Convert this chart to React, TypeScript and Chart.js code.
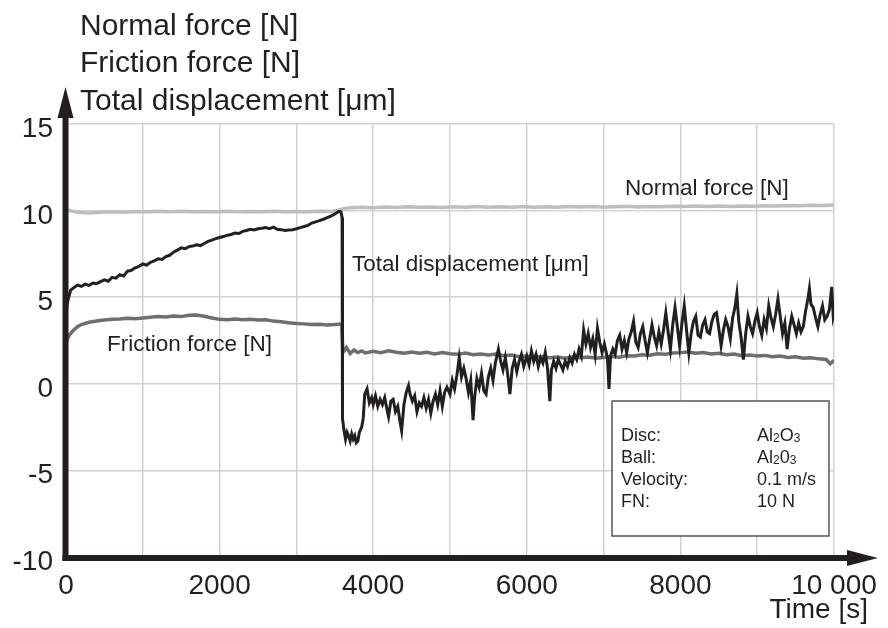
import React, { useEffect, useRef } from 'react';
import { Chart, registerables } from 'chart.js';

Chart.register(...registerables);

// ---------- data ----------
const normalTime = [0, 50, 150, 300, 450, 600, 750, 900, 1050, 1200, 1350, 1500, 1650, 1800, 1950, 2100, 2250, 2400, 2550, 2700, 2850, 3000, 3150, 3300, 3450, 3550, 3620, 3700, 3850, 4000, 4150, 4300, 4450, 4600, 4750, 4900, 5050, 5200, 5350, 5500, 5650, 5800, 5950, 6100, 6250, 6400, 6550, 6700, 6850, 7000, 7150, 7300, 7450, 7600, 7750, 7900, 8050, 8200, 8350, 8500, 8650, 8800, 8950, 9100, 9250, 9400, 9550, 9700, 9850, 10000];
const normalForce = [10.05, 10.0, 9.9, 9.86, 9.9, 9.93, 9.91, 9.95, 9.93, 9.96, 9.94, 9.96, 9.93, 9.95, 9.94, 9.96, 9.93, 9.95, 9.94, 9.96, 9.93, 9.95, 9.93, 9.96, 9.95, 10.02, 10.12, 10.16, 10.2, 10.17, 10.21, 10.18, 10.22, 10.19, 10.21, 10.18, 10.22, 10.2, 10.23, 10.19, 10.22, 10.2, 10.23, 10.2, 10.22, 10.19, 10.23, 10.21, 10.24, 10.2, 10.22, 10.25, 10.21, 10.24, 10.22, 10.25, 10.23, 10.26, 10.23, 10.26, 10.24, 10.27, 10.25, 10.28, 10.26, 10.3, 10.28, 10.31, 10.3, 10.32];

const frictionTime = [0, 20, 50, 100, 150, 200, 300, 400, 500, 600, 700, 800, 900, 1000, 1100, 1200, 1300, 1400, 1500, 1600, 1700, 1800, 1900, 2000, 2100, 2200, 2300, 2400, 2500, 2600, 2700, 2800, 2900, 3000, 3100, 3200, 3300, 3400, 3500, 3590, 3605, 3650, 3700, 3750, 3800, 3850, 3900, 4000, 4100, 4200, 4300, 4400, 4500, 4600, 4700, 4800, 4900, 5000, 5100, 5200, 5300, 5400, 5500, 5600, 5700, 5800, 5900, 6000, 6100, 6200, 6300, 6400, 6500, 6600, 6700, 6800, 6900, 7000, 7100, 7200, 7300, 7400, 7500, 7600, 7700, 7800, 7900, 8000, 8100, 8200, 8300, 8400, 8500, 8600, 8700, 8800, 8900, 9000, 9100, 9200, 9300, 9400, 9500, 9600, 9700, 9800, 9900, 9950, 10000];
const frictionForce = [2.35, 2.6, 2.85, 3.1, 3.3, 3.42, 3.55, 3.62, 3.68, 3.72, 3.74, 3.78, 3.76, 3.8, 3.84, 3.88, 3.86, 3.92, 3.88, 3.96, 3.97, 3.9, 3.8, 3.72, 3.7, 3.74, 3.7, 3.72, 3.68, 3.7, 3.62, 3.58, 3.52, 3.48, 3.46, 3.42, 3.44, 3.4, 3.42, 3.45, 1.8, 2.1, 1.75, 1.95, 1.8, 1.9, 1.78, 1.88, 1.8, 1.9, 1.82, 1.76, 1.84, 1.76, 1.82, 1.72, 1.8, 1.74, 1.7, 1.78, 1.68, 1.72, 1.66, 1.72, 1.62, 1.66, 1.56, 1.6, 1.52, 1.58, 1.5, 1.55, 1.48, 1.56, 1.5, 1.55, 1.47, 1.52, 1.58, 1.54, 1.62, 1.6, 1.68, 1.65, 1.74, 1.7, 1.78, 1.8, 1.84, 1.76, 1.8, 1.72, 1.76, 1.68, 1.72, 1.62, 1.66, 1.6, 1.64, 1.56, 1.6, 1.52, 1.56, 1.48, 1.5, 1.44, 1.4, 1.15, 1.35];

const dispTime = [0, 15, 30, 60, 100, 150, 200, 250, 300, 350, 400, 450, 500, 550, 600, 650, 700, 750, 800, 850, 900, 950, 1000, 1050, 1100, 1150, 1200, 1250, 1300, 1350, 1400, 1450, 1500, 1550, 1600, 1650, 1700, 1750, 1800, 1850, 1900, 1950, 2000, 2050, 2100, 2150, 2200, 2250, 2300, 2350, 2400, 2450, 2500, 2550, 2600, 2650, 2700, 2750, 2800, 2850, 2900, 2950, 3000, 3050, 3100, 3150, 3200, 3250, 3300, 3350, 3400, 3450, 3500, 3550, 3580, 3595,
  3600, 3620, 3640, 3660, 3680, 3700, 3720, 3740, 3760, 3780, 3800, 3820, 3850, 3870, 3890, 3920, 3950, 3980, 4000, 4030, 4060, 4090, 4120, 4150, 4180, 4200, 4230, 4260, 4290, 4320, 4350, 4370, 4400, 4430, 4460, 4480, 4510, 4540, 4570, 4600, 4630, 4660, 4690, 4720, 4750, 4780, 4810, 4840, 4870, 4900, 4930, 4960, 5000, 5030, 5060, 5090, 5120, 5150, 5180, 5210, 5240, 5270, 5300, 5320, 5350, 5380, 5410, 5440, 5470, 5500, 5530, 5560, 5590, 5630, 5660, 5690, 5720, 5750, 5780, 5810, 5840, 5870, 5900, 5930, 5960, 6000, 6030, 6060, 6090, 6120, 6150, 6180, 6210, 6240, 6270, 6300, 6320, 6350, 6380, 6410, 6440, 6470, 6500, 6530, 6560, 6590, 6620, 6650, 6680, 6710, 6740, 6770, 6800, 6830, 6860, 6890, 6920, 6950, 6980, 7010, 7050, 7070, 7090, 7120, 7150, 7180, 7210, 7240, 7270, 7300, 7330, 7360, 7390, 7420, 7450, 7480, 7510, 7540, 7570, 7600, 7630, 7660, 7690, 7720, 7750, 7780, 7810, 7840, 7870, 7900, 7930, 7960, 7990, 8020, 8050, 8080, 8110, 8140, 8170, 8200, 8230, 8260, 8290, 8320, 8350, 8380, 8410, 8440, 8470, 8500, 8530, 8560, 8590, 8620, 8650, 8680, 8710, 8735, 8760, 8790, 8820, 8850, 8880, 8910, 8940, 8970, 9000, 9030, 9060, 9090, 9120, 9150, 9180, 9210, 9240, 9270, 9300, 9330, 9360, 9390, 9420, 9450, 9480, 9510, 9540, 9570, 9600, 9630, 9660, 9680, 9700, 9730, 9760, 9790, 9820, 9850, 9880, 9910, 9940, 9970, 9990, 10000];
const displacement = [3.9, 4.6, 4.9, 5.4, 5.55, 5.7, 5.62, 5.75, 5.68, 5.82, 5.78, 5.9, 6.0, 5.92, 6.15, 6.1, 6.3, 6.22, 6.5, 6.55, 6.7, 6.78, 6.92, 6.85, 7.02, 7.1, 7.22, 7.18, 7.35, 7.42, 7.6, 7.72, 7.85, 7.8, 7.92, 7.95, 8.02, 7.98, 8.1, 8.22, 8.3, 8.38, 8.45, 8.5, 8.58, 8.62, 8.7, 8.68, 8.8, 8.85, 8.92, 8.88, 8.95, 8.98, 9.02, 8.96, 9.05, 8.92, 8.9, 8.85, 8.88, 8.9, 8.95, 9.02, 9.08, 9.15, 9.28, 9.35, 9.42, 9.5, 9.6, 9.68, 9.8, 9.95, 9.92, 9.6,
  -2.0, -2.7, -3.2, -2.8, -3.0, -3.3, -2.9, -3.2, -3.0, -3.4, -3.3, -2.8, -2.5, -2.0, -0.6, -0.3, -1.1, -0.8, -1.2, -0.7, -1.3, -0.9, -1.2, -0.8, -1.5, -1.9, -1.0, -0.9, -1.6, -1.3, -2.2, -2.7, -1.2, -0.5, -0.1, -0.6, -1.0, -0.7, -1.6, -1.1, -1.3, -0.8, -1.4, -0.9, -1.7, -1.0, -0.6, -1.2, -0.4, -1.3, -0.5, -0.2, -0.6, 0.2, -0.3, 0.5, 1.5, 0.4, 0.9, 0.3, -0.5, 0.2, -2.1, -0.8, 0.3, -0.2, 0.6, -0.4, -0.6, 0.4, 0.9, 0.2, 1.2, 2.0, 1.3, 0.8, 1.5, 0.6, -0.6, 0.9, 1.4, 0.7, 1.3, 1.7, 1.0, 1.6, 1.1, 1.9, 1.3, 1.7, 1.0, 1.5, 1.2, 1.8, 0.9, -1.0, 0.8, 1.3, 0.9, 1.4, 1.1, 0.8, 1.3, 1.0, 1.5, 1.2, 1.7, 1.4, 2.0, 1.6, 3.1, 2.3, 2.9, 2.1, 2.6, 1.7, 3.2, 2.4, 1.8, 2.3, 1.5, -0.3, 1.6, 2.0, 1.7, 2.5, 2.8, 2.0, 2.5, 1.8, 2.6, 3.0, 3.6, 2.4, 2.1, 2.9, 3.3, 2.5, 1.8, 2.6, 3.4, 2.7, 2.2, 3.0, 2.3, 3.1, 4.1, 3.0, 2.0, 3.4, 4.4, 3.3, 2.2, 3.5, 4.5, 3.1, 1.8, 2.9, 3.6, 3.9, 2.8, 2.7, 3.4, 3.7, 3.0, 2.9, 3.6, 4.0, 4.1, 3.2, 2.2, 3.1, 3.7, 3.3, 2.6, 3.8, 4.4, 5.2, 3.6, 2.7, 1.4, 2.9, 3.9, 3.3, 2.9, 3.6, 4.1, 3.3, 2.8, 3.7, 3.2, 4.5, 3.8, 3.3, 4.0, 4.9, 3.9, 2.9, 3.5, 2.0, 3.2, 3.9, 3.4, 2.9, 3.5, 3.0, 3.3, 4.2, 4.9, 5.5, 4.6, 4.4, 3.8, 3.3, 4.0, 4.5, 3.7, 3.9, 4.3, 5.6, 3.9, 4.1];

const yTickValues = [15, 10, 5, 0, -5, -10];
const xTickValues = [0, 2000, 4000, 6000, 8000, 10000];
const xTickLabels = ['0', '2000', '4000', '6000', '8000', '10 000'];
const axisTitleLines = ['Normal force [N]', 'Friction force [N]', 'Total displacement [\u03bcm]'];
const xAxisTitle = 'Time [s]';
const infoLabels = ['Disc:', 'Ball:', 'Velocity:', 'FN:'];
// value segments: [text, isSubscript]
const infoValues: [string, boolean][][] = [
  [['Al', false], ['2', true], ['O', false], ['3', true]],
  [['Al', false], ['2', true], ['0', false], ['3', true]],
  [['0.1 m/s', false]],
  [['10 N', false]],
];

const FONT = '"Liberation Sans", Arial, Helvetica, sans-serif';
const INK = '#231f20';

const zip = (xs: number[], ys: number[]) => xs.map((x, i) => ({ x, y: ys[i] }));

const overlayPlugin = {
  id: 'overlay',
  afterDatasetsDraw(chart: any) {
    const ctx: CanvasRenderingContext2D = chart.ctx;
    const xs = chart.scales.x;
    const ys = chart.scales.y;
    const left = xs.getPixelForValue(0);
    const bottom = ys.getPixelForValue(-10);
    ctx.save();
    ctx.fillStyle = INK;
    ctx.textBaseline = 'alphabetic';

    // in-plot labels
    ctx.font = `22.5px ${FONT}`;
    ctx.textAlign = 'left';
    ctx.fillText('Normal force [N]', 625, 195);
    ctx.fillText('Total displacement [\u03bcm]', 352, 271);
    ctx.fillText('Friction force [N]', 107, 351);

    // info box
    ctx.fillStyle = '#ffffff';
    ctx.fillRect(612, 401, 217, 135);
    ctx.strokeStyle = '#555555';
    ctx.lineWidth = 1.5;
    ctx.strokeRect(612, 401, 217, 135);
    ctx.fillStyle = INK;
    const base = [441, 463, 485, 507];
    infoLabels.forEach((lab, i) => {
      ctx.font = `18px ${FONT}`;
      ctx.fillText(lab, 621, base[i]);
      let x = 757;
      infoValues[i].forEach(([t, sub]) => {
        ctx.font = sub ? `12px ${FONT}` : `18px ${FONT}`;
        ctx.fillText(t, x, base[i] + (sub ? 1 : 0));
        x += ctx.measureText(t).width;
      });
    });

    // axes
    ctx.strokeStyle = INK;
    ctx.lineWidth = 6;
    ctx.lineCap = 'butt';
    ctx.beginPath();
    ctx.moveTo(left - 0.5, bottom + 4);
    ctx.lineTo(left - 0.5, 112);
    ctx.stroke();
    ctx.beginPath();
    ctx.moveTo(left - 3.5, bottom + 1);
    ctx.lineTo(852, bottom + 1);
    ctx.stroke();
    ctx.fillStyle = INK;
    ctx.beginPath();
    ctx.moveTo(left - 0.5, 87);
    ctx.lineTo(left - 8.5, 118);
    ctx.lineTo(left + 7.5, 118);
    ctx.closePath();
    ctx.fill();
    ctx.beginPath();
    ctx.moveTo(878, bottom + 1);
    ctx.lineTo(847, bottom - 7);
    ctx.lineTo(847, bottom + 9);
    ctx.closePath();
    ctx.fill();

    // tick labels
    ctx.font = `28px ${FONT}`;
    ctx.textAlign = 'right';
    yTickValues.forEach((v) => {
      ctx.fillText(String(v), 53, ys.getPixelForValue(v) + 13);
    });
    ctx.textAlign = 'center';
    xTickValues.forEach((v, i) => {
      ctx.fillText(xTickLabels[i], xs.getPixelForValue(v), 594);
    });
    ctx.textAlign = 'right';
    ctx.fillText(xAxisTitle, 868, 618);

    // y axis title lines
    ctx.font = `30px ${FONT}`;
    ctx.textAlign = 'left';
    const tb = [35, 72, 110];
    axisTitleLines.forEach((t, i) => ctx.fillText(t, 80, tb[i]));
    ctx.restore();
  },
};

export default function App() {
  const ref = useRef<HTMLCanvasElement | null>(null);
  useEffect(() => {
    if (!ref.current) return;
    const chart = new Chart(ref.current, {
      type: 'line',
      data: {
        datasets: [
          {
            label: 'Total displacement [\u03bcm]',
            data: zip(dispTime, displacement),
            borderColor: INK,
            borderWidth: 3,
            pointRadius: 0,
            tension: 0,
            order: 0,
          },
          {
            label: 'Friction force [N]',
            data: zip(frictionTime, frictionForce),
            borderColor: '#6e6e70',
            borderWidth: 3.5,
            pointRadius: 0,
            tension: 0,
            order: 1,
          },
          {
            label: 'Normal force [N]',
            data: zip(normalTime, normalForce),
            borderColor: '#bdbec0',
            borderWidth: 3.5,
            pointRadius: 0,
            tension: 0,
            order: 2,
          },
        ],
      },
      options: {
        responsive: false,
        animation: false,
        devicePixelRatio: 1,
        layout: { padding: { left: 66, right: 54, top: 124, bottom: 71 } },
        plugins: { legend: { display: false }, tooltip: { enabled: false } },
        scales: {
          x: {
            type: 'linear',
            min: 0,
            max: 10000,
            ticks: { display: false, stepSize: 1000 },
            grid: { color: '#d2d2d2', lineWidth: 1.5, drawTicks: false },
            border: { display: false },
          },
          y: {
            type: 'linear',
            min: -10,
            max: 15,
            ticks: { display: false, stepSize: 5 },
            grid: { color: '#d2d2d2', lineWidth: 1.5, drawTicks: false },
            border: { display: false },
          },
        },
      },
      plugins: [overlayPlugin],
    });
    return () => chart.destroy();
  }, []);
  return (
    <div style={{ position: 'absolute', left: 0, top: 0, width: 888, height: 628, background: '#fff' }}>
      <canvas ref={ref} width={888} height={628} />
    </div>
  );
}
